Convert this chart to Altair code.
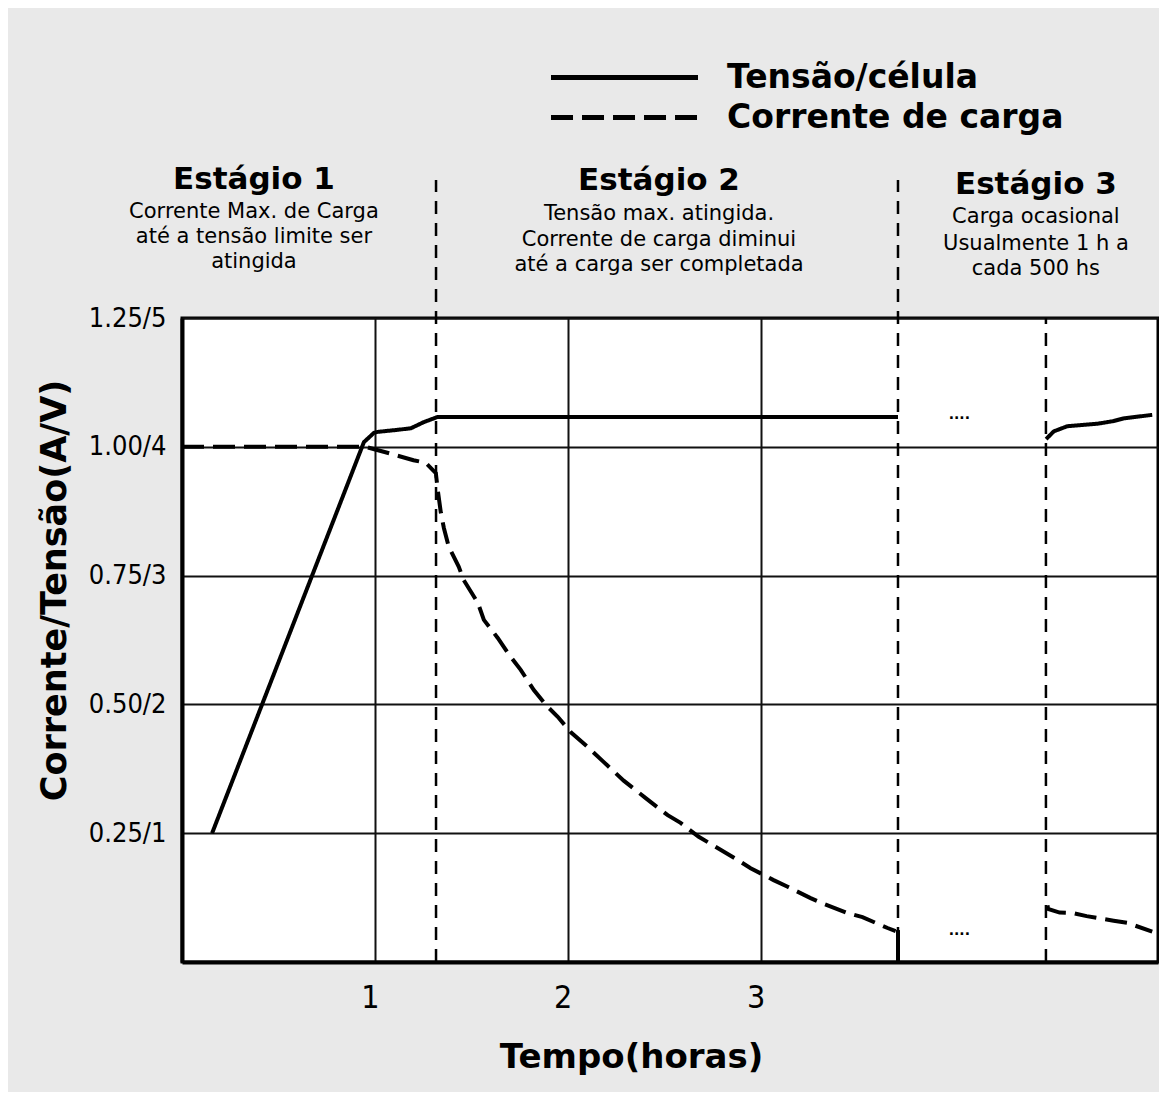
import altair as alt
import pandas as pd

# ---------------- data ----------------
series_names = ["Tensão/célula", "Corrente de carga"]

# Tensão/célula (solid) – stages 1-2
tensao_a_x = [0.156, 0.943, 0.995, 1.016, 1.119, 1.187, 1.254, 1.326, 3.712]
tensao_a_y = [0.25, 1.009, 1.027, 1.029, 1.033, 1.036, 1.048, 1.058, 1.058]
# Tensão/célula – stage 3
tensao_b_x = [4.48, 4.52, 4.59, 4.75, 4.83, 4.88, 5.03]
tensao_b_y = [1.015, 1.030, 1.040, 1.045, 1.050, 1.055, 1.062]

# Corrente de carga (dashed) – stages 1-2
corrente_a_x = [0.0, 0.95, 1.05, 1.20, 1.264, 1.316, 1.326, 1.342, 1.358, 1.383, 1.435,
                1.461, 1.534, 1.565, 1.637, 1.689, 1.756, 1.824, 1.886, 1.948, 2.016,
                2.104, 2.187, 2.29, 2.404, 2.518, 2.585, 2.679, 2.751, 2.881, 2.948,
                3.067, 3.140, 3.259, 3.326, 3.451, 3.528, 3.658, 3.70]
corrente_a_y = [1.0, 1.0, 0.99, 0.974, 0.969, 0.949, 0.916, 0.872, 0.842, 0.806, 0.767,
                0.741, 0.697, 0.664, 0.629, 0.600, 0.567, 0.528, 0.499, 0.476, 0.446,
                0.417, 0.388, 0.352, 0.318, 0.285, 0.270, 0.243, 0.227, 0.198, 0.182,
                0.159, 0.146, 0.124, 0.113, 0.095, 0.087, 0.066, 0.060]
# Corrente de carga – stage 3
corrente_b_x = [4.487, 4.49, 4.55, 4.62, 4.69, 4.83, 4.90, 5.03]
corrente_b_y = [0.110, 0.103, 0.096, 0.095, 0.089, 0.080, 0.076, 0.059]

# current drop at end of stage 2
queda_x = [3.712]
queda_y = [0.062]

# stage boundaries (dashed verticals)
limite_x = [1.317, 3.712, 4.479]
limite_topo = [1.518, 1.518, 1.25]

# "...." gap markers
pontos_x = [4.03, 4.03]
pontos_y = [1.062, 0.060]

# stage annotations
estagio_titulos = ["Estágio 1", "Estágio 2", "Estágio 3"]
estagio_x = [0.373, 2.473, 4.427]
estagio_titulo_y = [1.500, 1.498, 1.490]
estagio_linhas = [
    ["Corrente Max. de Carga", "até a tensão limite ser", "atingida"],
    ["Tensão max. atingida.", "Corrente de carga diminui", "até a carga ser completada"],
    ["Carga ocasional", "Usualmente 1 h a", "cada 500 hs"],
]
estagio_linhas_y = [
    [1.444, 1.3956, 1.347],
    [1.440, 1.3906, 1.342],
    [1.4345, 1.382, 1.333],
]

x_ticks = [1, 2, 3]
y_ticks = [0.25, 0.50, 0.75, 1.00, 1.25]
y_tick_labels = ["0.25/1", "0.50/2", "0.75/3", "1.00/4", "1.25/5"]

# ---------------- tables ----------------
rows = []
for seg, name, xs, ys in [
    ("t1", series_names[0], tensao_a_x, tensao_a_y),
    ("t2", series_names[0], tensao_b_x, tensao_b_y),
    ("c1", series_names[1], corrente_a_x, corrente_a_y),
    ("c2", series_names[1], corrente_b_x, corrente_b_y),
]:
    for x, y in zip(xs, ys):
        rows.append({"t": x, "v": y, "serie": name, "seg": seg})
df_lines = pd.DataFrame(rows)

df_lim = pd.DataFrame({"t": limite_x, "v": [0.0] * len(limite_x), "v2": limite_topo})
df_queda = pd.DataFrame({"t": queda_x, "v": [0.0] * len(queda_x), "v2": queda_y})
df_pontos = pd.DataFrame({"t": pontos_x, "v": pontos_y, "txt": ["...."] * len(pontos_x)})
df_tit = pd.DataFrame({"t": estagio_x, "v": estagio_titulo_y, "txt": estagio_titulos})
sub_rows = []
for i, linhas in enumerate(estagio_linhas):
    for txt, yy in zip(linhas, estagio_linhas_y[i]):
        sub_rows.append({"t": estagio_x[i], "v": yy, "txt": txt})
df_sub = pd.DataFrame(sub_rows)

# ---------------- styling ----------------
BOLD = "DejaVu Sans"
NARROW = "'Liberation Sans Narrow', 'DejaVu Sans Condensed', 'Liberation Sans', sans-serif"

x_scale = alt.Scale(domain=[0, 5.06], nice=False, zero=False)
y_scale = alt.Scale(domain=[0, 1.25], nice=False)

labels_js = "[" + ",".join("'" + s + "'" for s in y_tick_labels) + "]"
y_label_expr = labels_js + "[round(datum.value / 0.25) - 1]"

x_axis = alt.Axis(
    values=x_ticks, title="Tempo(horas)", grid=True, gridColor="#111", gridWidth=2,
    ticks=False, domainColor="black", domainWidth=4,
    labelFont=NARROW, labelFontSize=32, labelColor="black", labelPadding=20,
    labelOffset=-5, labelBaseline="top",
    titleFont=BOLD, titleFontWeight="bold", titleFontSize=34, titleColor="black",
    titleX=449, titleY=105, titleBaseline="alphabetic", titleAlign="center",
)
y_axis = alt.Axis(
    values=y_ticks, labelExpr=y_label_expr, title="Corrente/Tensão(A/V)", grid=True,
    gridColor="#111", gridWidth=2, ticks=False, domainColor="black", domainWidth=4,
    labelFont=NARROW, labelFontSize=27, labelColor="black", labelPadding=16,
    titleFont=BOLD, titleFontWeight="bold", titleFontSize=35, titleColor="black",
    titleX=-110, titleY=272, titleAlign="center",
)

legend = alt.Legend(
    title=None, orient="none", legendX=425, legendY=-258,
    symbolType="M-5,0H5", symbolSize=864, symbolStrokeWidth=5,
    symbolStrokeColor="black", symbolFillColor="transparent",
    labelFont=BOLD, labelFontWeight="bold", labelFontSize=33, labelColor="black",
    labelOffset=85, labelLimit=600, rowPadding=5,
)

X = alt.X("t:Q", scale=x_scale, axis=x_axis)
Y = alt.Y("v:Q", scale=y_scale, axis=y_axis)

lines = alt.Chart(df_lines).mark_line(strokeWidth=4, color="black", strokeCap="butt").encode(
    x=X,
    y=Y,
    strokeDash=alt.StrokeDash(
        "serie:N",
        scale=alt.Scale(domain=series_names, range=[[1, 0], [22, 9]]),
        legend=legend,
    ),
    detail="seg:N",
)

limites = alt.Chart(df_lim).mark_rule(color="black", strokeWidth=2.5, strokeDash=[13, 9]).encode(
    x=X, y=Y, y2="v2:Q",
)

queda = alt.Chart(df_queda).mark_rule(color="black", strokeWidth=4).encode(
    x=X, y=Y, y2="v2:Q",
)

pontos = alt.Chart(df_pontos).mark_text(
    font=BOLD, fontSize=14, fontWeight="bold", color="black", baseline="middle"
).encode(x=X, y=Y, text="txt:N")

titulos = alt.Chart(df_tit).mark_text(
    font=BOLD, fontSize=31, fontWeight="bold", color="black", baseline="alphabetic", align="center"
).encode(x=X, y=Y, text="txt:N")

subtitulos = alt.Chart(df_sub).mark_text(
    font=BOLD, fontSize=21, color="black", baseline="alphabetic", align="center"
).encode(x=X, y=Y, text="txt:N")

chart = alt.layer(limites, lines, queda, pontos, titulos, subtitulos).properties(
    width=976, height=644,
    autosize=alt.AutoSizeParams(type="none"),
    padding={"left": 174, "top": 310, "right": 1, "bottom": 130},
    background="#E9E9E9",
).configure_view(
    fill="white", stroke="black", strokeWidth=3,
)

chart.save("out.html", embed_options={"renderer": "svg", "actions": False})
